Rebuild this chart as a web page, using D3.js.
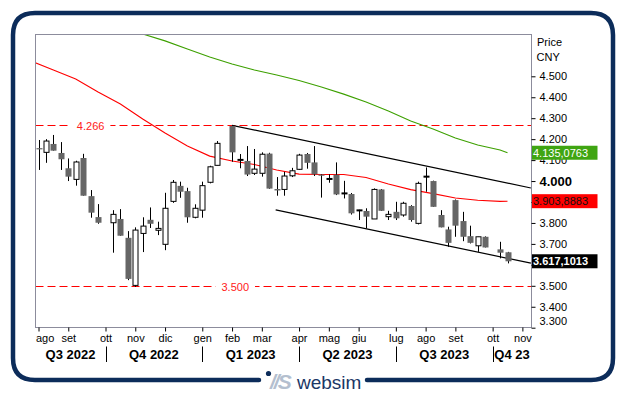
<!DOCTYPE html>
<html><head><meta charset="utf-8">
<script src="https://cdn.jsdelivr.net/npm/d3@7"></script>
<style>body{margin:0;background:#fff}svg{display:block;font-family:"Liberation Sans",Arial,sans-serif}</style>
</head><body><svg id="c" width="626" height="395"></svg>
<script>
// ---------- data (weekly candles, Friday dates) ----------
const dates = ["2022-08-05","2022-08-12","2022-08-19","2022-08-26","2022-09-02","2022-09-09","2022-09-16","2022-09-23","2022-09-30",
"2022-10-14","2022-10-21","2022-10-28","2022-11-04","2022-11-11","2022-11-18","2022-11-25","2022-12-02","2022-12-09","2022-12-16","2022-12-23","2022-12-30",
"2023-01-06","2023-01-13","2023-01-20","2023-02-03","2023-02-10","2023-02-17","2023-02-24","2023-03-03","2023-03-10","2023-03-17","2023-03-24","2023-03-31",
"2023-04-07","2023-04-14","2023-04-21","2023-04-28","2023-05-05","2023-05-12","2023-05-19","2023-05-26","2023-06-02","2023-06-09","2023-06-16","2023-06-23","2023-06-30",
"2023-07-07","2023-07-14","2023-07-21","2023-07-28","2023-08-04","2023-08-11","2023-08-18","2023-08-25","2023-09-01","2023-09-08","2023-09-15","2023-09-22","2023-09-29",
"2023-10-13","2023-10-20"];
const open  = [4.157,4.137,4.177,4.134,4.061,4.008,4.110,3.928,3.828, 3.801,3.819,3.729,3.502,3.750,3.815,3.765,3.698,3.903,3.977,3.952,3.827,
3.861,3.994,4.075,4.263,4.101,4.096,4.037,4.037,4.131,3.962,3.960,4.025, 4.056,4.129,4.089,4.031,4.010,4.030,3.941,3.938,3.860,3.857,3.819,3.960,3.830,
3.853,3.838,3.881,3.798,4.021,4.000,3.838,3.769,3.909,3.809,3.737,3.691,3.734, 3.674,3.660];
const high  = [4.196,4.200,4.220,4.186,4.108,4.097,4.130,3.957,3.890, 3.861,3.866,3.761,3.779,3.827,3.874,3.806,3.944,4.005,3.997,3.968,3.889,
3.997,4.073,4.191,4.266,4.129,4.167,4.153,4.137,4.135,4.019,4.044,4.063, 4.130,4.134,4.167,4.033,4.032,4.089,4.001,3.943,3.863,3.870,3.965,3.962,3.858,
3.901,3.901,3.885,3.997,4.065,4.002,3.861,3.782,3.912,3.853,3.787,3.734,3.736, 3.710,3.662];
const low   = [4.053,4.087,4.145,4.053,4.000,3.978,3.930,3.825,3.796, 3.658,3.739,3.527,3.495,3.661,3.776,3.742,3.670,3.896,3.920,3.801,3.822,
3.825,3.989,4.075,4.092,4.061,4.024,4.029,4.021,3.963,3.930,3.930,4.019, 4.053,4.059,4.024,3.921,3.992,3.933,3.917,3.840,3.814,3.774,3.819,3.857,3.814,
3.814,3.830,3.806,3.793,3.949,3.877,3.779,3.686,3.734,3.713,3.702,3.662,3.683, 3.631,3.607];
const close = [4.155,4.191,4.145,4.104,4.021,4.091,3.930,3.849,3.801, 3.841,3.739,3.533,3.766,3.785,3.796,3.774,3.870,3.994,3.949,3.827,3.870,
3.978,4.068,4.180,4.137,4.101,4.031,4.057,4.128,3.964,3.955,4.024,4.049, 4.124,4.087,4.032,4.026,4.010,3.936,3.941,3.846,3.860,3.830,3.960,3.858,3.841,
3.822,3.894,3.814,3.989,4.021,3.877,3.779,3.705,3.787,3.734,3.705,3.734,3.683, 3.658,3.617];

// moving averages
const maRedDates = ["2022-07-29","2022-08-19","2022-09-09","2022-09-30","2022-10-21","2022-11-11","2022-12-02","2022-12-23","2023-01-13","2023-02-03","2023-02-24","2023-03-17","2023-04-07","2023-04-28","2023-05-19","2023-06-09","2023-06-30","2023-07-21","2023-08-11","2023-09-01","2023-09-22","2023-10-13","2023-10-20"];
const maRed = [4.573,4.530,4.487,4.425,4.368,4.296,4.229,4.167,4.119,4.096,4.079,4.053,4.033,4.031,4.031,4.017,3.986,3.959,3.940,3.919,3.908,3.903,3.9039];
const maGreenDates = ["2022-10-28","2022-11-11","2022-12-02","2022-12-23","2023-01-13","2023-02-03","2023-02-24","2023-03-17","2023-04-07","2023-04-28","2023-05-19","2023-06-09","2023-06-30","2023-07-21","2023-08-11","2023-09-01","2023-09-22","2023-10-13","2023-10-20"];
const maGreen = [4.726,4.702,4.669,4.630,4.592,4.559,4.530,4.506,4.480,4.449,4.415,4.377,4.334,4.287,4.248,4.205,4.172,4.148,4.135];

// horizontal levels
const levels = [4.266, 3.500];
const levelLabels = ["4.266", "3.500"];
const levelLabelDates = ["2022-09-23", "2023-02-06"];

// trend channel
const channelUpper = [["2023-02-03", 4.266], ["2023-11-11", 3.967]];
const channelLower = [["2023-03-16", 3.862], ["2023-11-11", 3.608]];

// axis
const yTicks = [3.3,3.4,3.5,3.6,3.7,3.8,3.9,4.0,4.1,4.2,4.3,4.4,4.5];
const yTicksHidden = [3.6, 3.9];   // labels covered by the value boxes
const monthDates = ["2022-08-05","2022-09-02","2022-10-07","2022-11-04","2022-12-02","2023-01-06","2023-02-03","2023-03-03","2023-04-07","2023-05-05","2023-06-02","2023-07-07","2023-08-04","2023-09-01","2023-10-06","2023-11-03"];
const monthLabels = ["ago","set","ott","nov","dic","gen","feb","mar","apr","mag","giu","lug","ago","set","ott","nov"];
const quarterBounds = ["2022-10-07","2023-01-06","2023-04-07","2023-07-07","2023-10-06"];
const quarterLabels = ["Q3 2022","Q4 2022","Q1 2023","Q2 2023","Q3 2023","Q4 23"];

// last-value boxes
const lastValues = [4.1350763, 3.9038883, 3.6171013];
const lastLabels = ["4.135,0763", "3.903,8883", "3.617,1013"];

// ---------- drawing ----------
const parse = d3.utcParse("%Y-%m-%d");
const svg = d3.select("#c");
const L = 35.5, R = 531.5, T = 34.5, B = 327.5;

const x = d3.scaleUtc().domain([parse("2022-08-05"), parse("2023-10-20")]).range([38.5, 507.5]);
const y = d3.scaleLinear().domain([3.3, 4.5]).range([327.7, 76.3]);

// outer frame
const fx0 = 13, fy0 = 13, fx1 = 613, fy1 = 380, r = 22;
svg.append("path")
  .attr("d", `M259,${fy1} L${fx0+r},${fy1} Q${fx0},${fy1} ${fx0},${fy1-r} L${fx0},${fy0+r} Q${fx0},${fy0} ${fx0+r},${fy0} L${fx1-r},${fy0} Q${fx1},${fy0} ${fx1},${fy0+r} L${fx1},${fy1-r} Q${fx1},${fy1} ${fx1-r},${fy1} L367,${fy1}`)
  .attr("fill", "none").attr("stroke", "#0c2c5a").attr("stroke-width", 4.5).attr("stroke-linecap", "round");

// logo
svg.append("circle").attr("cx", 268.5).attr("cy", 373.5).attr("r", 2.6).attr("fill", "#0c2c5a");
svg.append("text").attr("x", 270).attr("y", 389).attr("font-size", 21).attr("font-weight", "bold").attr("font-style", "italic")
  .attr("fill", "#b4bfcf").attr("letter-spacing", -2).text("//S");
svg.append("text").attr("x", 297).attr("y", 388.5).attr("font-size", 19).attr("fill", "#1b3766").text("websim");

// clip
svg.append("defs").append("clipPath").attr("id", "clip").append("rect")
  .attr("x", L).attr("y", T).attr("width", R - L).attr("height", B - T);
const g = svg.append("g").attr("clip-path", "url(#clip)");

// level lines
levels.forEach((v, i) => {
  const yy = Math.round(y(v)) + 0.5;
  g.append("line").attr("x1", L).attr("x2", R).attr("y1", yy).attr("y2", yy)
    .attr("stroke", "#ff0000").attr("stroke-dasharray", "8,4");
  const tx = x(parse(levelLabelDates[i]));
  const t = g.append("text").attr("x", tx).attr("y", yy + 4).attr("text-anchor", "middle")
    .attr("font-size", 11).attr("fill", "#ff2020").text(levelLabels[i]);
  const w = t.node().getComputedTextLength();
  g.insert("rect", () => t.node()).attr("x", tx - w / 2 - 6).attr("y", yy - 3).attr("width", w + 12).attr("height", 6).attr("fill", "#fff");
});

// moving averages
const line = d3.line().x(d => x(d[0])).y(d => y(d[1]));
g.append("path").datum(maRedDates.map((d, i) => [parse(d), maRed[i]]))
  .attr("d", line).attr("fill", "none").attr("stroke", "#ff0000").attr("stroke-width", 1.1);
g.append("path").datum(maGreenDates.map((d, i) => [parse(d), maGreen[i]]))
  .attr("d", line).attr("fill", "none").attr("stroke", "#3da000").attr("stroke-width", 1.1);

// channel
[channelUpper, channelLower].forEach(c => {
  g.append("path").datum(c.map(d => [parse(d[0]), d[1]])).attr("d", line)
    .attr("fill", "none").attr("stroke", "#000").attr("stroke-width", 1.2);
});

// candles
const candles = dates.map((d, i) => ({ d: parse(d), o: open[i], h: high[i], l: low[i], c: close[i] }));
const cg = g.append("g");
candles.forEach(k => {
  const cx = Math.round(x(k.d)) + 0.5;
  cg.append("line").attr("x1", cx).attr("x2", cx).attr("y1", y(k.h)).attr("y2", y(k.l)).attr("stroke", "#000");
  const up = k.c >= k.o;
  const y0 = y(Math.max(k.o, k.c)), y1 = y(Math.min(k.o, k.c));
  if (k.c === k.o) {
    cg.append("rect").attr("x", cx - 3).attr("y", y0 - 1).attr("width", 6).attr("height", 2).attr("fill", "#000");
  } else if (up) {
    cg.append("rect").attr("x", cx - 2.5).attr("y", y0).attr("width", 5).attr("height", Math.max(1, y1 - y0))
      .attr("fill", "#fff").attr("stroke", "#000").attr("stroke-width", 1);
  } else {
    cg.append("rect").attr("x", cx - 3).attr("y", y0).attr("width", 6).attr("height", Math.max(1.2, y1 - y0)).attr("fill", "#666");
  }
});

// plot frame
svg.append("rect").attr("x", L).attr("y", T).attr("width", R - L).attr("height", B - T)
  .attr("fill", "none").attr("stroke", "#8c8c9c");

// right axis
const ya = svg.append("g").attr("transform", `translate(${R},0)`)
  .call(d3.axisRight(y).tickValues(yTicks).tickSize(4).tickPadding(4)
    .tickFormat(d => yTicksHidden.some(h => Math.abs(h - d) < 1e-9) ? "" : d3.format(".3f")(d)));
ya.select(".domain").remove();
ya.selectAll("text").attr("font-family", null).attr("font-size", 11).attr("fill", "#000")
  .filter(d => Math.abs(d - 4.0) < 1e-9).attr("font-size", 13).attr("font-weight", "bold");
ya.selectAll(".tick").filter(d => Math.abs(d - 3.3) < 1e-9).select("text").attr("dy", "-0.25em");
ya.selectAll("line").attr("stroke", "#000");

svg.append("text").attr("x", 537).attr("y", 45.5).attr("font-size", 11).text("Price");
svg.append("text").attr("x", 536.5).attr("y", 60.5).attr("font-size", 11).text("CNY");

// last value boxes
const boxFill = ["#3fa512", "#ff0000", "#000"];
const boxText = ["#fff", "#111", "#fff"];
lastValues.forEach((v, i) => {
  const yy = y(v);
  svg.append("rect").attr("x", R + 0.5).attr("y", yy - 7).attr("width", 65.5).attr("height", 14).attr("fill", boxFill[i]);
  svg.append("text").attr("x", R + 1.5).attr("y", yy + 4).attr("font-size", 11)
    .attr("font-weight", i === 2 ? "bold" : null).attr("fill", boxText[i]).text(lastLabels[i]);
});

// bottom axis (months)
const xa = svg.append("g").attr("transform", `translate(0,${B})`)
  .call(d3.axisBottom(x).tickValues(monthDates.map(parse)).tickSize(4).tickPadding(3).tickFormat((d, i) => monthLabels[i]));
xa.select(".domain").remove();
xa.selectAll("line").attr("stroke", "#000");
xa.selectAll("text").attr("font-family", null).attr("font-size", 11).attr("fill", "#000").each(function () {
  const t = d3.select(this), w = this.getComputedTextLength();
  const tx = +this.parentNode.getAttribute("transform").match(/translate\(([-\d.]+)/)[1];
  if (tx - w / 2 < L) t.attr("x", L + w / 2 - tx + 0.5);
});

// quarter separators and labels
const qx = [L, ...quarterBounds.map(d => x(parse(d))), R];
quarterBounds.forEach(d => {
  const xx = Math.round(x(parse(d))) + 0.5;
  svg.append("line").attr("x1", xx).attr("x2", xx).attr("y1", 346.5).attr("y2", 362).attr("stroke", "#000");
});
quarterLabels.forEach((q, i) => {
  svg.append("text").attr("x", (qx[i] + qx[i + 1]) / 2).attr("y", 358.5).attr("text-anchor", "middle")
    .attr("font-size", 13).attr("font-weight", "bold").attr("fill", "#000").text(q);
});
</script></body></html>
